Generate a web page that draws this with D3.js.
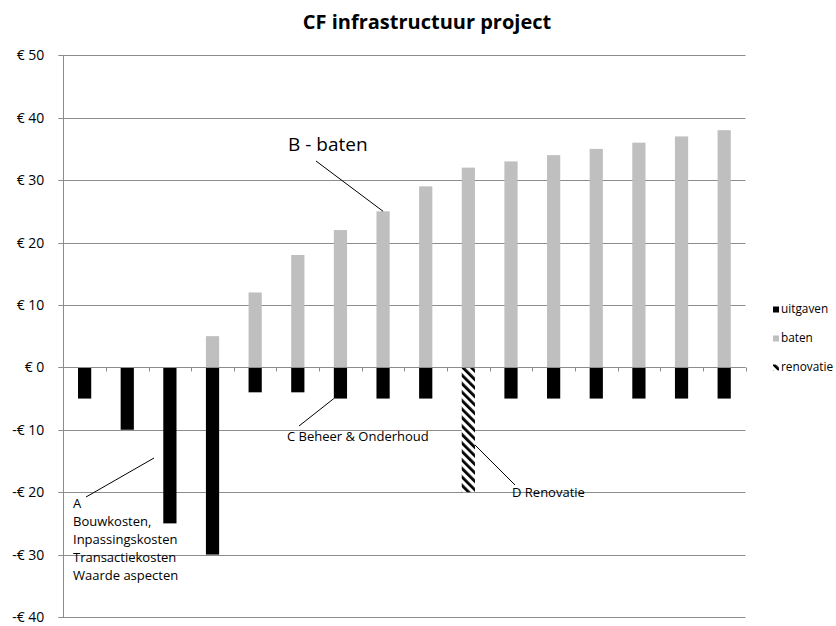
<!DOCTYPE html>
<html><head><meta charset="utf-8">
<script src="https://cdn.jsdelivr.net/npm/d3@7"></script>
<style>
body{margin:0;background:#fff;}
text{font-family:"Open Sans",Lato,sans-serif;}
</style></head>
<body><svg id="c" width="836" height="626"></svg>
<script>
const categories = [1,2,3,4,5,6,7,8,9,10,11,12,13,14,15,16];
const uitgaven = [-5,-10,-25,-30,-4,-4,-5,-5,-5,0,-5,-5,-5,-5,-5,-5];
const baten = [0,0,0,5,12,18,22,25,29,32,33,34,35,36,37,38];
const renovatie = [0,0,0,0,0,0,0,0,0,-20,0,0,0,0,0,0];
const yTicks = [50,40,30,20,10,0,-10,-20,-30,-40];
const seriesNames = ["uitgaven","baten","renovatie"];

const svg = d3.select("#c");
const pL = 63.3, pR = 745.5, pT = 55.3, pB = 617;
const x = d3.scaleBand().domain(categories).range([pL,pR]).paddingInner(0.69).paddingOuter(0.345);
const y = d3.scaleLinear().domain([-40,50]).range([pB,pT]);

const defs = svg.append("defs");
const pat = defs.append("pattern").attr("id","hatch").attr("patternUnits","userSpaceOnUse")
  .attr("width",6).attr("height",6).attr("patternTransform","rotate(-45)");
pat.append("rect").attr("width",6).attr("height",6).attr("fill","#fff");
pat.append("rect").attr("x",0).attr("width",2.8).attr("height",6).attr("fill","#000");

// gridlines
svg.append("g").selectAll("line").data(yTicks).join("line")
  .attr("x1",pL-5).attr("x2",pR)
  .attr("y1",d=>Math.round(y(d))+0.5).attr("y2",d=>Math.round(y(d))+0.5)
  .attr("stroke","#8c8c8c").attr("stroke-width",1);
// y axis
const yAxis = d3.axisLeft(y).tickValues(yTicks).tickSize(0).tickPadding(19)
  .tickFormat(d=> (d<0?"-€ ":"€ ")+Math.abs(d));
const ga = svg.append("g").attr("transform",`translate(${pL},0)`).call(yAxis);
ga.select(".domain").remove();
ga.selectAll("text").attr("font-size",14).attr("fill","#000").attr("font-family","'Open Sans',sans-serif");
svg.append("line").attr("x1",Math.round(pL)+0.5).attr("x2",Math.round(pL)+0.5)
  .attr("y1",pT).attr("y2",pB).attr("stroke","#8c8c8c");

// bars
const bw = x.bandwidth();
svg.append("g").selectAll("rect").data(categories).join("rect")
  .attr("x",d=>x(d)).attr("width",bw)
  .attr("y",(d,i)=>y(baten[i])).attr("height",(d,i)=>y(0)-y(baten[i]))
  .attr("fill","#bfbfbf");
svg.append("g").selectAll("rect").data(categories).join("rect")
  .attr("x",d=>x(d)).attr("width",bw)
  .attr("y",y(0)).attr("height",(d,i)=>y(uitgaven[i])-y(0))
  .attr("fill","#000");
svg.append("g").selectAll("rect").data(categories.filter((d,i)=>renovatie[i]!==0)).join("rect")
  .attr("x",d=>x(d)).attr("width",bw)
  .attr("y",y(0)).attr("height",d=>y(renovatie[categories.indexOf(d)])-y(0))
  .attr("fill","url(#hatch)");

// zero axis line with ticks
const y0 = Math.round(y(0))+0.5;
svg.append("line").attr("x1",pL).attr("x2",pR).attr("y1",y0).attr("y2",y0).attr("stroke","#8c8c8c");
const step = x.step();
svg.append("g").selectAll("line").data(d3.range(categories.length+1)).join("line")
  .attr("x1",i=>Math.round(pL+i*step)+0.5).attr("x2",i=>Math.round(pL+i*step)+0.5)
  .attr("y1",y0).attr("y2",y0+4).attr("stroke","#8c8c8c");

// title
svg.append("text").attr("x",427).attr("y",29).attr("text-anchor","middle")
  .attr("font-size",20).attr("font-weight","bold").text("CF infrastructuur project");

// legend
const lg = svg.append("g");
const lfill = ["#000","#bfbfbf","url(#hatch)"];
seriesNames.forEach((n,i)=>{
  const ly = 313 + i*29;
  lg.append("rect").attr("x",773).attr("y",ly-6.5).attr("width",6).attr("height",6).attr("fill",lfill[i]);
  lg.append("text").attr("x",781).attr("y",ly).attr("font-size",11.8).text(n);
});

// annotations
const ann = svg.append("g").attr("stroke","#000").attr("stroke-width",1);
const bx = i=>x(categories[i]);
ann.append("line").attr("x1",316).attr("y1",161).attr("x2",bx(7)+bw/2).attr("y2",y(baten[7]));
ann.append("line").attr("x1",299).attr("y1",426).attr("x2",bx(6)).attr("y2",y(uitgaven[6]));
ann.append("line").attr("x1",bx(9)+bw).attr("y1",445).attr("x2",515).attr("y2",485);
ann.append("line").attr("x1",86).attr("y1",497).attr("x2",154).attr("y2",458);

svg.append("text").attr("x",288).attr("y",151).attr("font-size",19).text("B - baten");
svg.append("text").attr("x",287).attr("y",441).attr("font-size",13).text("C Beheer & Onderhoud");
svg.append("text").attr("x",512).attr("y",497).attr("font-size",13).text("D Renovatie");
const aLines = ["A","Bouwkosten,","Inpassingskosten","Transactiekosten","Waarde aspecten"];
svg.append("g").selectAll("text").data(aLines).join("text")
  .attr("x",73).attr("y",(d,i)=>508+i*17.9).attr("font-size",13).text(d=>d);
</script></body></html>
